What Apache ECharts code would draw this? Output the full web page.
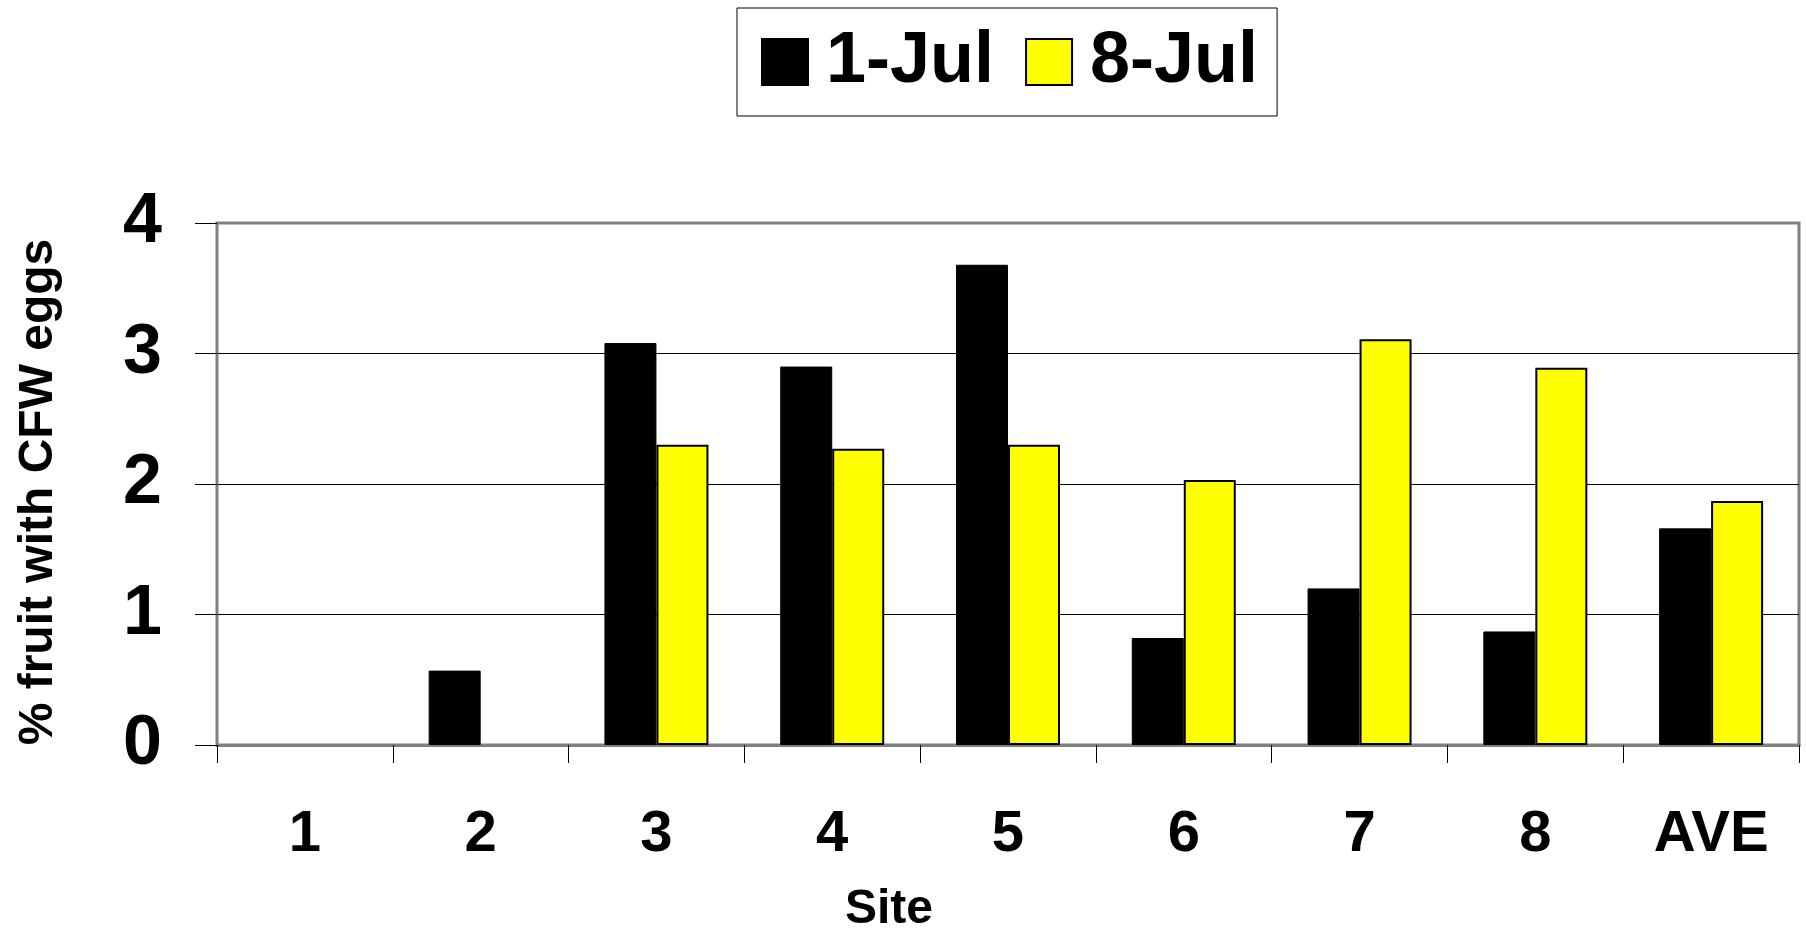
<!DOCTYPE html>
<html>
<head>
<meta charset="utf-8">
<title>CFW eggs by site</title>
<script src="https://cdn.jsdelivr.net/npm/echarts@6/dist/echarts.min.js"></script>
<style>
  html, body { margin: 0; padding: 0; background: #ffffff; }
  #chart { width: 1806px; height: 929px; }
</style>
</head>
<body>
<div id="chart"></div>
<script>
// Sites sampled, plus the average across sites
const sites = ['1', '2', '3', '4', '5', '6', '7', '8', 'AVE'];
// % of fruit carrying CFW eggs on each sampling date
const jul1 = [0, 0.57, 3.08, 2.90, 3.68, 0.82, 1.20, 0.87, 1.66];
const jul8 = [0, 0, 2.30, 2.27, 2.30, 2.03, 3.11, 2.89, 1.87];
const seriesNames = ['1-Jul', '8-Jul'];
const yTicks = [0, 1, 2, 3, 4];

const FONT = '"Liberation Sans", Arial, Helvetica, sans-serif';

// Zero-height bars get no outline so nothing shows on the baseline
function barData(values) {
  return values.map(function (v) {
    return v === 0 ? { value: v, itemStyle: { borderWidth: 0 } } : v;
  });
}

const chart = echarts.init(document.getElementById('chart'));

chart.setOption({
  animation: false,
  backgroundColor: '#ffffff',
  textStyle: { fontFamily: FONT },
  legend: {
    left: 737,
    top: 8,
    orient: 'horizontal',
    padding: [18, 19, 18, 24],
    itemGap: 31,
    itemWidth: 46,
    itemHeight: 46,
    borderColor: '#000000',
    borderWidth: 1,
    icon: 'rect',
    textStyle: {
      fontFamily: FONT,
      fontSize: 72,
      fontWeight: 'bold',
      color: '#000000',
      padding: [0, 0, 0, 13]
    },
    data: seriesNames
  },
  grid: {
    left: 217,
    right: 7,
    top: 223,
    bottom: 184,
    show: true,
    borderColor: '#808080',
    borderWidth: 3,
    backgroundColor: 'transparent'
  },
  xAxis: {
    type: 'category',
    data: sites,
    boundaryGap: true,
    axisLine: { show: true, lineStyle: { color: '#808080', width: 3 } },
    axisTick: { show: true, length: 18, interval: 0, lineStyle: { color: '#000000', width: 1 } },
    axisLabel: {
      interval: 0,
      margin: 61,
      fontFamily: FONT,
      fontSize: 58,
      fontWeight: 'bold',
      color: '#000000'
    },
    splitLine: { show: false }
  },
  yAxis: {
    type: 'value',
    min: yTicks[0],
    max: yTicks[yTicks.length - 1],
    interval: 1,
    axisLine: { show: true, lineStyle: { color: '#808080', width: 2 } },
    axisTick: { show: true, length: 22, lineStyle: { color: '#000000', width: 1 } },
    axisLabel: {
      margin: 55,
      fontFamily: FONT,
      fontSize: 70,
      fontWeight: 'bold',
      color: '#000000'
    },
    splitLine: {
      show: true,
      lineStyle: { color: ['#808080', '#000000', '#000000', '#000000', '#808080'], width: 1 }
    }
  },
  graphic: [
    {
      type: 'text',
      x: 39,
      y: 492,
      rotation: Math.PI / 2,
      style: {
        text: '% fruit with CFW eggs',
        fontFamily: FONT,
        fontSize: 48,
        fontWeight: 'bold',
        fill: '#000000',
        align: 'center',
        verticalAlign: 'middle'
      }
    },
    {
      type: 'text',
      x: 889,
      y: 910,
      style: {
        text: 'Site',
        fontFamily: FONT,
        fontSize: 48,
        fontWeight: 'bold',
        fill: '#000000',
        align: 'center',
        verticalAlign: 'middle'
      }
    }
  ],
  series: [
    {
      name: seriesNames[0],
      type: 'bar',
      data: barData(jul1),
      barWidth: 52,
      barGap: '0%',
      itemStyle: { color: '#000000', borderColor: '#000000', borderWidth: 1 }
    },
    {
      name: seriesNames[1],
      type: 'bar',
      data: barData(jul8),
      barWidth: 52,
      barGap: '0%',
      itemStyle: { color: '#ffff00', borderColor: '#000000', borderWidth: 2 }
    }
  ]
});
</script>
</body>
</html>
